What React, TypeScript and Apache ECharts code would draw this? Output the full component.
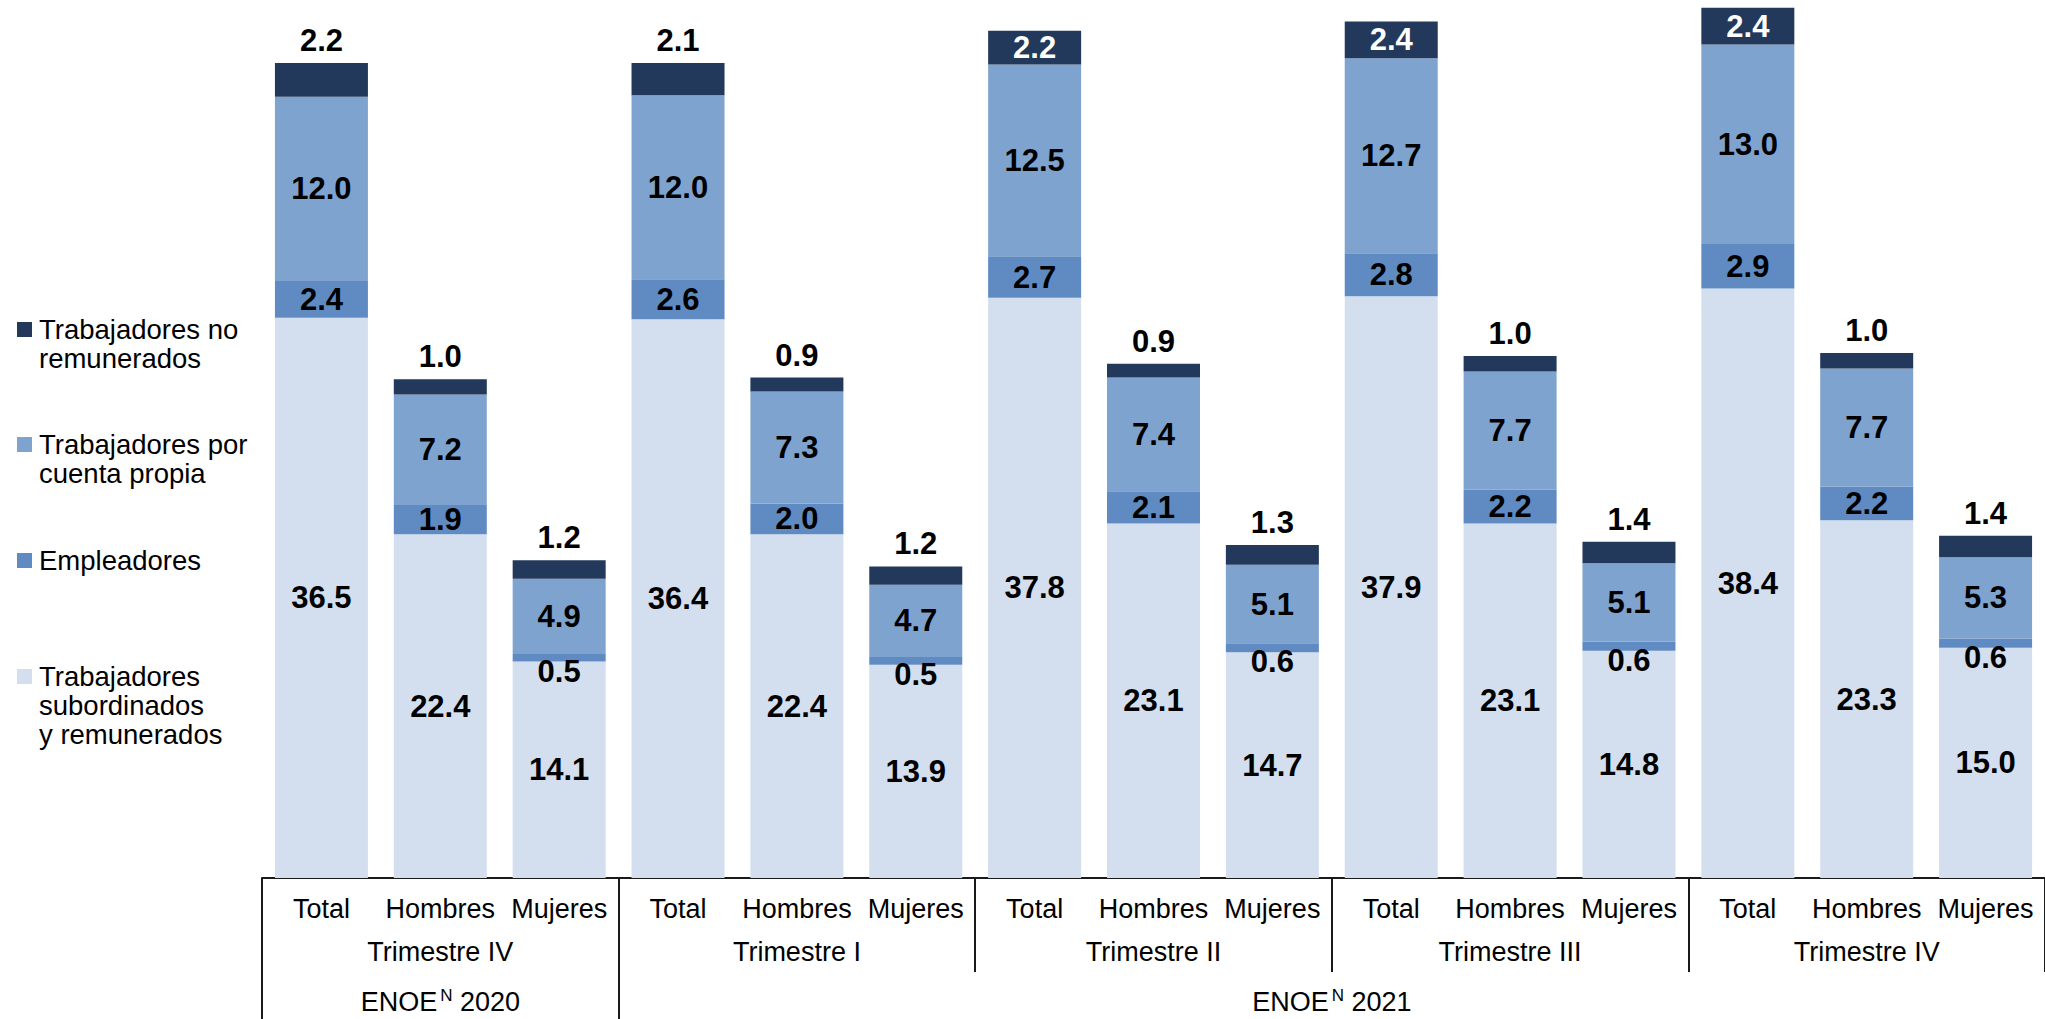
import React, { useEffect, useRef } from 'react';
import * as echarts from 'echarts';

const categories = [
  'Total', 'Hombres', 'Mujeres',
  'Total', 'Hombres', 'Mujeres',
  'Total', 'Hombres', 'Mujeres',
  'Total', 'Hombres', 'Mujeres',
  'Total', 'Hombres', 'Mujeres',
];
const trimestres = ['Trimestre IV', 'Trimestre I', 'Trimestre II', 'Trimestre III', 'Trimestre IV'];
const surveyYears = ['2020', '2021'];
const surveyBarCounts = [3, 12];

const subordinados = [36.5, 22.4, 14.1, 36.4, 22.4, 13.9, 37.8, 23.1, 14.7, 37.9, 23.1, 14.8, 38.4, 23.3, 15.0];
const empleadores = [2.4, 1.9, 0.5, 2.6, 2.0, 0.5, 2.7, 2.1, 0.6, 2.8, 2.2, 0.6, 2.9, 2.2, 0.6];
const cuentaPropia = [12.0, 7.2, 4.9, 12.0, 7.3, 4.7, 12.5, 7.4, 5.1, 12.7, 7.7, 5.1, 13.0, 7.7, 5.3];
const noRemunerados = [2.2, 1.0, 1.2, 2.1, 0.9, 1.2, 2.2, 0.9, 1.3, 2.4, 1.0, 1.4, 2.4, 1.0, 1.4];

const seriesNames = [
  'Trabajadores\nsubordinados\ny remunerados',
  'Empleadores',
  'Trabajadores por\ncuenta propia',
  'Trabajadores no\nremunerados',
];

const COLORS = ['#D3DFEE', '#5F8BC2', '#7EA3CF', '#22395B'];
const FONT = '"Liberation Sans", Arial, Helvetica, sans-serif';
const LINE = '#1a1a1a';
const Y_MAX = 57.2;

export default function App() {
  const ref = useRef<HTMLDivElement>(null);

  useEffect(() => {
    if (!ref.current) return;
    const chart = echarts.init(ref.current, undefined, { renderer: 'svg' });

    const nBars = categories.length;
    const surveyBounds: number[] = [0];
    const surveyCenters: number[] = [];
    let acc = 0;
    surveyBarCounts.forEach((c) => {
      surveyCenters.push(acc + c / 2);
      acc += c;
      surveyBounds.push(acc);
    });

    const totals = categories.map(
      (_, i) => subordinados[i] + empleadores[i] + cuentaPropia[i] + noRemunerados[i]
    );

    const labelBase = {
      show: true,
      fontFamily: FONT,
      fontSize: 31,
      fontWeight: 'bold' as const,
      color: '#000',
      formatter: (p: any) => Number(p.value).toFixed(1),
    };

    const stackSeries = [subordinados, empleadores, cuentaPropia, noRemunerados].map((arr, si) => ({
      name: seriesNames[si],
      type: 'bar',
      stack: 'total',
      barWidth: 93,
      itemStyle: { color: COLORS[si] },
      label: si === 3
        ? { ...labelBase, position: 'top', distance: 7 }
        : { ...labelBase, position: 'inside' },
      data: arr.map((v, i) => {
        if (si === 1 && i % 3 === 2) return { value: v, label: { offset: [0, 14] } };
        if (si === 3 && totals[i] > 54) {
          return { value: v, label: { position: 'inside', color: '#fff' } };
        }
        return v;
      }),
    }));

    const legendTops = [315, 430, 546, 662];
    const legendOrder = [3, 2, 1, 0];
    const legendGraphics: any[] = [];
    legendOrder.forEach((si, k) => {
      legendGraphics.push({
        type: 'rect',
        left: 17,
        top: legendTops[k] + 7,
        shape: { width: 15, height: 15 },
        style: { fill: COLORS[si] },
      });
      legendGraphics.push({
        type: 'text',
        left: 39,
        top: legendTops[k],
        style: {
          text: seriesNames[si],
          font: `27.5px ${FONT}`,
          lineHeight: 29,
          fill: '#000',
        },
      });
    });

    const option: any = {
      animation: false,
      textStyle: { fontFamily: FONT },
      grid: { left: 262, width: 1786.5, top: 0, bottom: 141, containLabel: false },
      xAxis: [
        {
          type: 'category',
          data: categories,
          position: 'bottom',
          axisLine: { show: true, lineStyle: { color: LINE, width: 2 } },
          axisTick: { show: false },
          axisLabel: {
            interval: 0,
            fontFamily: FONT,
            fontSize: 27,
            lineHeight: 30,
            color: '#000',
            margin: 16,
            hideOverlap: false,
          },
        },
        {
          type: 'category',
          data: trimestres,
          position: 'bottom',
          axisLine: { show: false },
          axisTick: { show: true, interval: 0, length: 94, lineStyle: { color: LINE, width: 2 } },
          axisLabel: {
            interval: 0,
            fontFamily: FONT,
            fontSize: 27,
            lineHeight: 30,
            color: '#000',
            margin: 59,
          },
          splitLine: { show: false },
        },
        {
          type: 'value',
          min: 0,
          max: nBars,
          position: 'bottom',
          axisLine: { show: false },
          splitLine: { show: false },
          axisTick: {
            show: true,
            customValues: surveyBounds.slice(0, -1),
            length: 141,
            lineStyle: { color: LINE, width: 2 },
          },
          axisLabel: {
            show: true,
            customValues: surveyCenters,
            margin: 109,
            formatter: (v: number) => {
              const i = surveyCenters.indexOf(v);
              return `{a|ENOE}{s|N}{a| ${surveyYears[i] ?? ''}}`;
            },
            rich: {
              a: { fontFamily: FONT, fontSize: 27, lineHeight: 30, color: '#000' },
              s: { fontFamily: FONT, fontSize: 17, lineHeight: 15, verticalAlign: 'top', color: '#000', padding: [0, 0, 0, 3] },
            },
          },
        },
      ],
      yAxis: { type: 'value', min: 0, max: Y_MAX, show: false },
      series: stackSeries,
      graphic: legendGraphics,
    };

    chart.setOption(option);
    return () => chart.dispose();
  }, []);

  return (
    <div
      ref={ref}
      style={{ position: 'fixed', left: 0, top: 0, width: 2045, height: 1019, background: '#fff' }}
    />
  );
}
